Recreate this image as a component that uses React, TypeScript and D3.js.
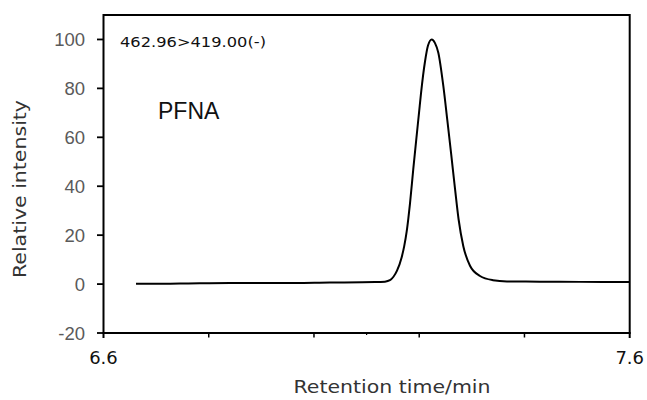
import React from "react";
import * as d3 from "d3";

const times = [6.6618, 6.7454, 6.8404, 6.9354, 7.0304, 7.1159, 7.1349, 7.1444, 7.1507, 7.1578, 7.1667, 7.1715, 7.1762, 7.1794, 7.1825, 7.1887, 7.1948, 7.1996, 7.2034, 7.211, 7.2167, 7.2237, 7.23, 7.2363, 7.2458, 7.2534, 7.2608, 7.268, 7.2748, 7.2838, 7.2965, 7.3155, 7.3402, 7.3668, 7.4295, 7.5055, 7.6];
const intensity = [0.1, 0.2, 0.4, 0.4, 0.6, 0.8, 1.0, 1.6, 2.9, 5.5, 11, 15.5, 21.5, 27, 33, 47, 60, 70, 78, 91, 97.5, 100, 98.5, 94.6, 81, 67, 53, 39, 26.5, 15.5, 7.5, 3.3, 1.6, 1.1, 1.0, 0.9, 0.8];
const yTicks = [-20, 0, 20, 40, 60, 80, 100];
const xLabelTicks = [6.6, 7.6];
const xMinorTicks = [6.8, 7.0, 7.2, 7.4];
const xTinyTicks = [7.1];
const transitionLabel = "462.96>419.00(-)";
const compoundLabel = "PFNA";
const xTitle = "Retention time/min";
const yTitle = "Relative intensity";

const W = 647;
const H = 400;
const left = 103.5;
const right = 629.7;
const top = 15;
const bottom = 333;

export default function App() {
  const x = d3.scaleLinear().domain([6.6, 7.6]).range([left, right]);
  const y = d3.scaleLinear().domain([-20, 110]).range([bottom, top]);
  const data = times.map((t, i) => [t, intensity[i]] as [number, number]);
  const line = d3
    .line<[number, number]>()
    .x((d) => x(d[0]))
    .y((d) => y(d[1]))
    .curve(d3.curveMonotoneX);
  const gothic = "'DejaVu Sans', 'Open Sans', sans-serif";
  const arial = "'Liberation Sans', Arial, sans-serif";
  return (
    <svg
      width={W}
      height={H}
      style={{ position: "absolute", left: 0, top: 0, background: "#fff" }}
    >
      {/* frame */}
      <path
        d={`M${left},${bottom} L${left},${top} L${right},${top} L${right},${bottom}`}
        fill="none"
        stroke="#000"
        strokeWidth={2}
      />
      <line x1={left - 1} x2={right + 1} y1={bottom} y2={bottom} stroke="#000" strokeWidth={2.2} />
      {/* y ticks */}
      {yTicks.map((v) => (
        <g key={v}>
          <line x1={left - 6.5} x2={left} y1={y(v)} y2={y(v)} stroke="#000" strokeWidth={1.8} />
          <text
            x={85}
            y={y(v)}
            dy="0.36em"
            textAnchor="end"
            fontFamily={arial}
            fontSize={18.5}
            fill="#5a5a5a"
          >
            {v}
          </text>
        </g>
      ))}
      {/* x ticks */}
      {xLabelTicks.map((v) => (
        <g key={v}>
          <line x1={x(v)} x2={x(v)} y1={bottom} y2={bottom + 5} stroke="#000" strokeWidth={2} />
          <text
            x={x(v)}
            y={364}
            textAnchor="middle"
            fontFamily={gothic}
            fontSize={18}
            fill="#111"
          >
            {v.toFixed(1)}
          </text>
        </g>
      ))}
      {xMinorTicks.map((v) => (
        <line key={v} x1={x(v)} x2={x(v)} y1={bottom} y2={bottom + 4.5} stroke="#000" strokeWidth={1.5} />
      ))}
      {xTinyTicks.map((v) => (
        <line key={v} x1={x(v)} x2={x(v)} y1={bottom} y2={bottom + 2} stroke="#000" strokeWidth={1.2} />
      ))}
      {/* curve */}
      <path d={line(data) || ""} fill="none" stroke="#000" strokeWidth={2} strokeLinejoin="round" />
      {/* labels */}
      <text x={120} y={47} fontFamily={gothic} fontSize={13.5} fill="#111" textLength={146} lengthAdjust="spacingAndGlyphs">
        {transitionLabel}
      </text>
      <text x={158} y={118.5} fontFamily={arial} fontSize={23} fill="#111">
        {compoundLabel}
      </text>
      <text
        x={392}
        y={393}
        textAnchor="middle"
        fontFamily={gothic}
        fontSize={18}
        fill="#333"
        textLength={197}
        lengthAdjust="spacingAndGlyphs"
      >
        {xTitle}
      </text>
      <text
        transform={`translate(26,189) rotate(-90)`}
        textAnchor="middle"
        fontFamily={gothic}
        fontSize={17}
        fill="#333"
        textLength={178}
        lengthAdjust="spacingAndGlyphs"
      >
        {yTitle}
      </text>
    </svg>
  );
}
